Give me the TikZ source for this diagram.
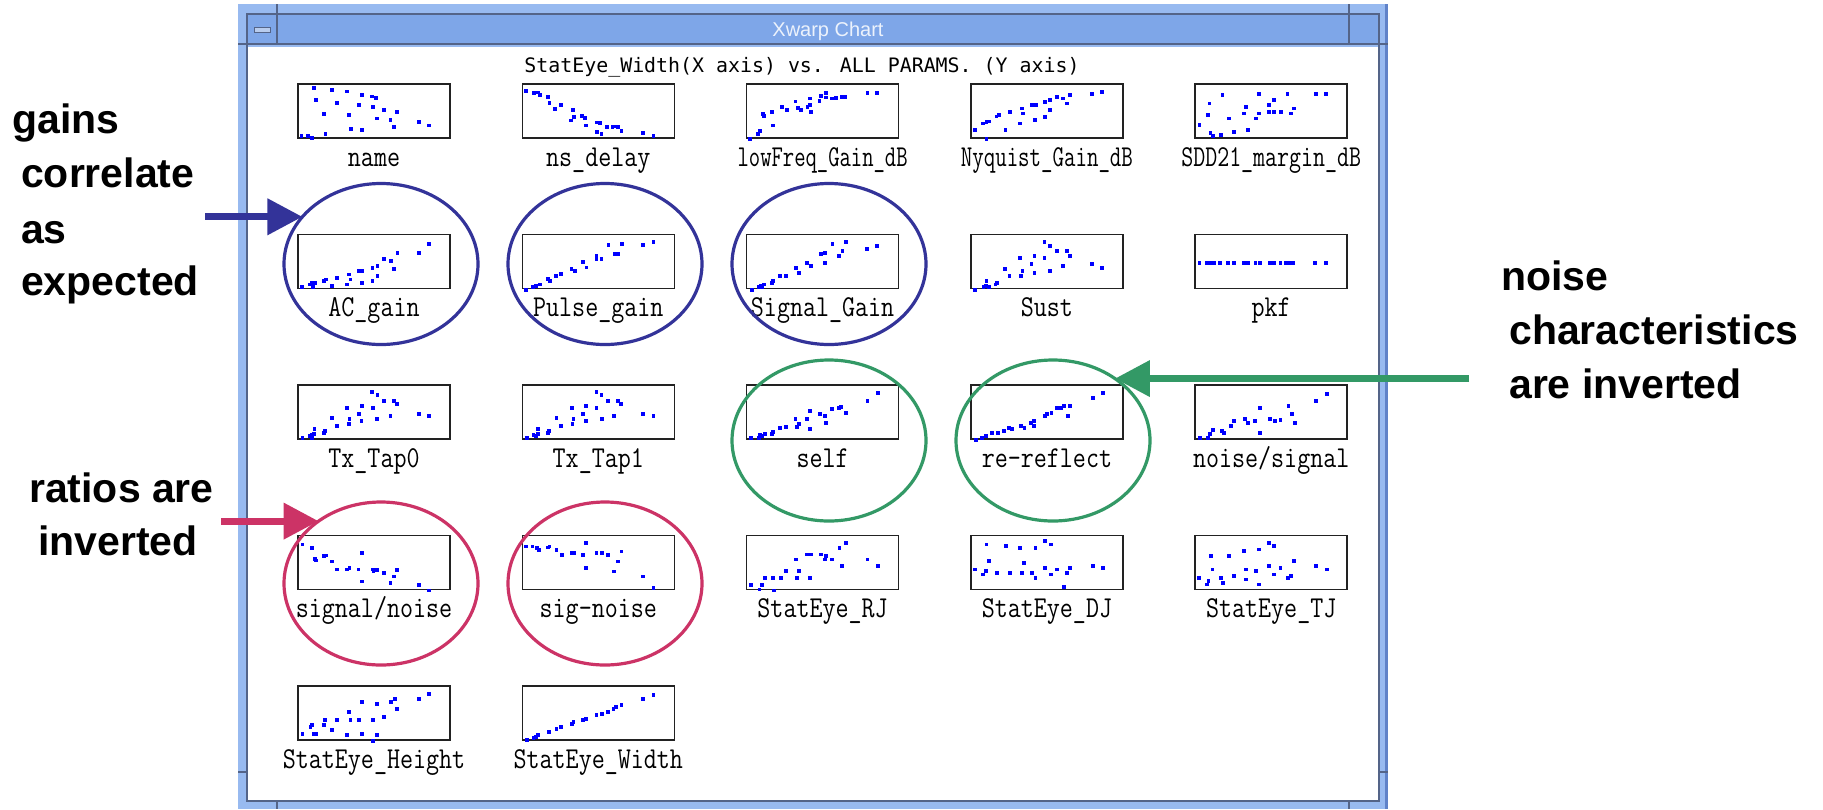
\documentclass[tikz,border=0pt]{standalone}
\usepackage{fontspec}
\usetikzlibrary{shapes.geometric,arrows.meta}
\newfontfamily\annfont{Liberation Sans}
\newfontfamily\chtfont{DejaVu Sans Mono}
\newfontfamily\wtfont{Liberation Sans}
\definecolor{framec}{RGB}{152,186,240}
\definecolor{titlec}{RGB}{126,166,232}
\definecolor{darkline}{RGB}{84,100,136}
\definecolor{outerdark}{RGB}{96,130,200}
\definecolor{titletxt}{RGB}{236,242,252}
\definecolor{dashc}{RGB}{184,204,238}
\definecolor{boxc}{RGB}{34,34,34}
\definecolor{dotc}{RGB}{0,0,255}
\definecolor{ringblue}{RGB}{51,51,153}
\definecolor{ringgreen}{RGB}{51,153,102}
\definecolor{ringred}{RGB}{204,51,102}

\newcommand\squeeze[2]{\scalebox{#1}[1]{#2}}
\newcommand\plotcell[9]{%
  \pgfmathsetmacro\pcx{298+224.3*(#2-1)}%
  \pgfmathsetmacro\pcy{84+150.5*(#3-1)}%
  \node[plotbox] (b#1) at (\pcx+76,\pcy+27) {};
  \foreach \px/\py in {#9} {
    \fill[dotc] ({\pcx+(\px-#5)/(#6-#5)*152-1.9},{\pcy+(\py-#7)/(#8-#7)*54-1.9}) rectangle ++(3.8,3.8);
  }
  \node[plotlabel] (l#1) at (\pcx+76,\pcy+82) {\scalebox{1}[1.2]{#4}};
}

\begin{document}
\begin{tikzpicture}[x=1pt,y=-1pt,
  plotbox/.style={draw=boxc, line width=1.5pt, minimum width=152pt, minimum height=54pt, inner sep=0pt, outer sep=0pt},
  plotlabel/.style={anchor=base, inner sep=0pt, font=\ttfamily\fontsize{25.3}{30}\selectfont},
  ann/.style={anchor=base west, inner sep=0pt, font=\annfont\bfseries\fontsize{41}{50}\selectfont},
  ring/.style={ellipse, line width=3.2pt, minimum width=194pt, minimum height=161pt, inner sep=0pt, outer sep=0pt},
  fatarrow/.style={line width=7pt, -{Triangle[length=35pt,width=35pt]}},
  notch/.style={draw=darkline, line width=1.5pt}
]
\useasboundingbox (0,0) rectangle (1823,809);
\fill[white] (0,0) rectangle (1823,809);

% window frame
\fill[framec] (238,4) rectangle (1388,809);
\fill[white] (248,47) rectangle (1378,800);
\fill[titlec] (248,15) rectangle (1378,43);
\draw[outerdark, line width=3pt] (1386.5,4) -- (1386.5,809);
\draw[darkline, line width=2pt] (247,801) -- (247,14) -- (1379,14) -- (1379,801) -- cycle;
\draw[darkline, line width=2pt] (248,44) -- (1378,44);
\draw[notch] (277,4) -- (277,44);
\draw[notch] (1349,4) -- (1349,44);
\draw[notch] (238,44) -- (247,44);
\draw[notch] (1379,44) -- (1388,44);
\draw[notch] (238,772) -- (247,772);
\draw[notch] (1379,772) -- (1388,772);
\draw[notch] (277,801) -- (277,809);
\draw[notch] (1349,801) -- (1349,809);
\draw[darkline, fill=dashc, line width=1pt] (254,27) rectangle (270,32);
\node[anchor=base, inner sep=0pt, text=titletxt, font=\wtfont\fontsize{20}{24}\selectfont] (wtitle) at (828,36) {Xwarp Chart};

% chart title
\node[anchor=base, inner sep=0pt, font=\chtfont\fontsize{19.9}{24}\selectfont] (ctitle) at (802,72) {StatEye\_Width(X axis) vs. ALL PARAMS. (Y axis)};

% scatter plots
\plotcell{name}{1}{1}{name}{152}{494}{250}{410}{188/263,228/268,262/272,296/282,318/287,328/292,192/297,240/307,289/312,320/318,346/327,375/333,210/338,266/343,330/352,360/357,424/362,447/373,368/378,271/383,296/387,214/398,160/403,175/405,183/410}
\plotcell{nsdelay}{2}{1}{ns\_delay}{655}{997}{250}{410}{664/271,682/277,690/275,694/283,712/289,716/307,742/313,729/325,769/328,771/348,765/358,790/345,796/350,798/373,822/364,830/366,823/392,833/397,846/378,858/378,866/376,870/378,878/389,926/394,950/405}
\plotcell{lowfreq}{3}{1}{\squeeze{0.87}{lowFreq\_Gain\_dB}}{1158}{1500}{250}{410}{1430/277,1451/277,1337/277,1325/285,1336/290,1300/293,1322/300,1350/293,1360/292,1372/288,1380/288,1268/302,1273/322,1281/327,1300/312,1295/318,1302/333,1238/318,1248/327,1216/333,1195/339,1198/345,1218/373,1188/390,1184/397,1166/414}
\plotcell{nyq}{4}{1}{\squeeze{0.88}{Nyquist\_Gain\_dB}}{123}{581}{249}{412}{136/388,160/368,170/363,178/362,200/347,207/343,227/388,241/333,271/368,276/323,281/338,306/313,318/313,317/358,346/348,347/303,361/298,362/328,382/288,401/293,412/308,422/283,487/278,518/273,170/415}
\plotcell{sdd}{5}{1}{\squeeze{0.92}{SDD21\_margin\_dB}}{797}{1255}{249}{412}{879/283,990/278,1075/278,1160/278,1190/278,840/308,1035/298,1020/313,950/318,1095/323,1020/333,1035/333,1055/333,1085/338,945/338,990/338,835/343,900/353,980/353,810/373,843/398,850/405,875/403,915/393,955/388}
\plotcell{acgain}{1}{2}{AC\_gain}{205}{660}{252}{413}{598/281,568/306,503/306,463/326,483/331,443/346,428/351,493/356,397/361,386/361,357/371,362/386,322/381,288/386,283/391,248/396,257/396,240/401,443/376,428/391,397/396,352/401,307/406,250/408,217/408}
\plotcell{pulse}{2}{2}{Pulse\_gain}{878}{1333}{254}{413}{1271/275,1240/286,1176/281,1136/286,1155/311,1165/311,1100/316,1115/326,1060/336,1070/351,1025/356,1035/361,995/371,980/376,955/386,960/391,930/401,920/406,910/408,890/418,1100/326}
\plotcell{siggain}{3}{2}{Signal\_Gain}{108}{460}{252}{413}{338/275,307/280,410/286,387/296,330/301,290/306,280/311,322/316,290/336,248/336,258/346,222/351,230/366,200/376,186/376,170/391,166/396,148/401,140/406,136/408,145/410,120/418}
\plotcell{sust}{4}{2}{Sust}{626}{977}{252}{413}{796/275,808/286,824/301,847/301,854/316,773/316,796/321,740/321,766/341,838/346,705/356,745/361,773/366,808/361,905/341,929/351,715/376,742/376,686/396,683/401,662/391,660/406,667/408,655/408,635/418}
\plotcell{pkf}{5}{2}{pkf}{1142}{1495}{252}{413}{1152/336,1170/336,1178/336,1186/336,1200/336,1218/336,1232/336,1255/336,1265/336,1282/336,1292/336,1315/336,1325/336,1340/336,1352/336,1360/336,1370/336,1420/336,1445/336}
\plotcell{tap0}{1}{3}{Tx\_Tap0}{152}{494}{75}{237}{318/97,331/106,345/122,368/124,375/133,263/143,296/138,320/143,229/173,290/163,240/198,268/178,295/183,266/193,330/178,360/168,424/163,447/168,213/213,210/218,189/208,188/223,183/226,178/228,162/233,183/233}
\plotcell{tap1}{2}{3}{Tx\_Tap1}{655}{997}{75}{237}{822/97,833/106,848/122,870/124,877/133,766/143,798/138,822/143,732/173,792/163,742/198,770/178,798/183,768/193,834/178,862/168,927/163,950/168,715/213,712/218,690/208,690/223,686/228,680/226,665/233}
\plotcell{self}{3}{3}{self}{105}{447}{75}{237}{400/98,377/122,318/142,312/144,328/158,298/148,270/163,282/168,248/153,241/178,284/188,215/178,222/193,218/200,248/208,194/200,180/203,164/217,162/223,147/222,140/228,136/226,132/233,115/233}
\plotcell{reref}{4}{3}{re-reflect}{607}{948}{75}{237}{903/98,880/113,830/138,816/138,810/143,800/143,788/158,774/168,778/163,824/168,748/183,748/198,742/188,720/198,727/203,700/208,692/203,682/213,668/218,655/220,640/228,632/233,618/240}
\plotcell{nsig}{5}{3}{noise/signal}{1110}{1452}{75}{237}{1406/103,1382/123,1320/138,1255/143,1328/163,1278/178,1290/183,1302/180,1334/188,1245/183,1222/178,1228/188,1198/183,1190/198,1170/213,1175/218,1150/210,1144/223,1138/233,1120/233,1255/218}
\plotcell{snr}{1}{4}{signal/noise}{152}{494}{528}{690}{162/555,183/565,190/598,192/603,210/590,215/588,229/606,240/630,262/630,268/626,288/630,296/581,320/630,322/635,330/631,345/640,375/631,368/651,360/671,296/666,424/676,447/693}
\plotcell{sigmn}{2}{4}{sig-noise}{655}{997}{528}{690}{664/561,678/561,688/566,693/571,712/564,716/561,732/571,745/586,766/581,772/581,792/586,798/551,822/581,834/581,848/586,878/576,870/606,798/626,862/636,927/651,950/686}
\plotcell{rj}{3}{4}{StatEye\_RJ}{105}{447}{528}{690}{328/550,314/566,241/585,250/585,272/585,284/590,282/600,298/600,216/600,320/620,377/600,400/620,193/635,222/635,182/656,164/656,146/656,218/656,248/656,140/676,114/676,134/690,166/693}
\plotcell{dj}{4}{4}{StatEye\_DJ}{607}{948}{528}{690}{642/555,685/560,718/565,752/565,774/545,786/555,647/605,726/610,617/630,640/635,635/645,666/640,695/640,722/640,744/640,752/655,774/625,786/645,800/630,822/640,830/626,880/620,903/625,816/683}
\plotcell{tj}{5}{4}{StatEye\_TJ}{1110}{1452}{528}{690}{1276/550,1288/560,1254/570,1220/575,1186/590,1145/590,1332/605,1149/630,1225/630,1246/635,1276/620,1302/625,1288/645,1382/620,1406/630,1118/655,1140/665,1136/675,1168/655,1172/670,1198/650,1225/660,1254/675,1318/655,1325/650}
\plotcell{height}{1}{5}{StatEye\_Height}{152}{494}{110}{272}{447/133,424/148,370/148,362/158,296/158,330/163,375/178,266/188,345/203,213/213,240/213,270/213,289/213,320/213,210/228,183/228,180/233,229/243,162/253,188/253,192/253,262/258,296/253,330/258,320/275}
\plotcell{width}{2}{5}{StatEye\_Width}{655}{997}{110}{272}{950/138,927/148,878/168,866/173,860/178,848/188,834/193,822/198,798/208,792/213,770/218,766/223,742/233,732/238,715/248,690/258,685/263,680/266,665/273}

% highlight rings
\node[ring, draw=ringblue] (acring) at (381,264) {};
\node[ring, draw=ringblue] (pulsering) at (605,264) {};
\node[ring, draw=ringblue] (sgring) at (829,264) {};
\node[ring, draw=ringgreen] (selfring) at (829,440.5) {};
\node[ring, draw=ringgreen] (rerefring) at (1053,440.5) {};
\node[ring, draw=ringred, minimum height=163pt] (snring) at (381,583.5) {};
\node[ring, draw=ringred, minimum height=163pt] (sigmnring) at (605,583.5) {};

% annotation texts
\node[ann] (g1) at (12,133) {gains};
\node[ann] (g2) at (21,187) {correlate};
\node[ann] (g3) at (21,243) {as};
\node[ann] (g4) at (21,295) {expected};
\node[ann] (n1) at (1501,290) {noise};
\node[ann] (n2) at (1509,344) {characteristics};
\node[ann] (n3) at (1509,398) {are inverted};
\node[ann] (r1) at (29,502) {ratios are};
\node[ann] (r2) at (38,555) {inverted};

% arrows
\coordinate (gtail) at (205,0);
\coordinate (rtail) at (221,0);
\coordinate (ntail) at (1469,0);
\draw[fatarrow, draw=ringblue] (gtail |- acring.149) -- (acring.149);
\draw[fatarrow, draw=ringred] (rtail |- snring.135) -- (snring.135);
\draw[fatarrow, draw=ringgreen] (ntail |- rerefring.45) -- (rerefring.45);
\end{tikzpicture}
\end{document}
